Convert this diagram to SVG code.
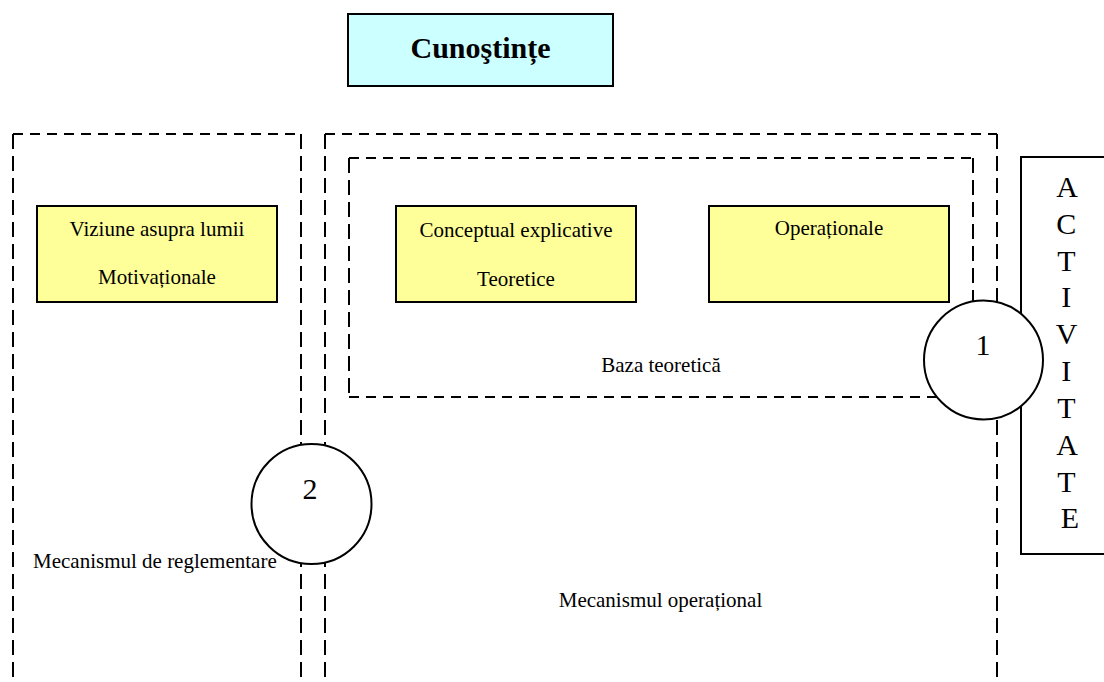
<svg xmlns="http://www.w3.org/2000/svg" width="1104" height="682" viewBox="0 0 1104 682">
<style>
text{font-family:"Liberation Serif","Times New Roman",serif;fill:#000}
.t{font-size:21px}
.big{font-size:30px}
.hd{stroke:#000;stroke-width:2;stroke-dasharray:10 7;fill:none}
.vd{stroke:#000;stroke-width:2;stroke-dasharray:15 7;fill:none}
.yb{fill:#FFFF99;stroke:#000;stroke-width:2}
.cir{fill:#fff;stroke:#000;stroke-width:2}
</style>
<rect width="1104" height="682" fill="#fff"/>
<g id="connectors">
  <!-- left dashed region -->
  <line class="hd" x1="13" y1="134" x2="301" y2="134"/>
  <line class="vd" x1="13" y1="134" x2="13" y2="682"/>
  <line class="vd" x1="301" y1="134" x2="301" y2="682"/>
  <!-- right dashed region -->
  <line class="hd" x1="325" y1="134" x2="997" y2="134"/>
  <line class="vd" x1="325" y1="134" x2="325" y2="682"/>
  <line class="vd" x1="997" y1="134" x2="997" y2="682"/>
  <!-- inner dashed region -->
  <line class="hd" x1="349" y1="158" x2="973" y2="158"/>
  <line class="hd" x1="349" y1="397" x2="973" y2="397"/>
  <line class="vd" x1="349" y1="158" x2="349" y2="397"/>
  <line class="vd" x1="973" y1="158" x2="973" y2="397"/>
</g>
<g id="cunostinte">
  <rect x="348" y="14" width="265" height="72" fill="#CCFFFF" stroke="#000" stroke-width="2"/>
  <text x="480.5" y="58" text-anchor="middle" style="font-size:30px;font-weight:bold">Cunoştințe</text>
</g>
<g id="activitate">
  <rect x="1021" y="157" width="100" height="397" fill="#fff" stroke="#000" stroke-width="2"/>
  <text class="big" text-anchor="middle">
    <tspan x="1070" y="197">A</tspan>
    <tspan x="1070" y="234">C</tspan>
    <tspan x="1070" y="271">T</tspan>
    <tspan x="1070" y="307">I</tspan>
    <tspan x="1070" y="344">V</tspan>
    <tspan x="1070" y="381">I</tspan>
    <tspan x="1070" y="418">T</tspan>
    <tspan x="1070" y="455">A</tspan>
    <tspan x="1070" y="492">T</tspan>
    <tspan x="1070" y="528">E</tspan>
  </text>
</g>
<g id="viziune">
  <rect class="yb" x="37" y="206" width="240" height="96"/>
  <text class="t" x="157" y="236" text-anchor="middle">Viziune asupra lumii</text>
  <text class="t" x="157" y="284" text-anchor="middle">Motivaționale</text>
</g>
<g id="conceptual">
  <rect class="yb" x="396" y="206" width="240" height="96"/>
  <text class="t" x="516" y="237" text-anchor="middle">Conceptual explicative</text>
  <text class="t" x="516" y="286" text-anchor="middle">Teoretice</text>
</g>
<g id="operationale">
  <rect class="yb" x="709" y="206" width="240" height="96"/>
  <text class="t" x="829" y="235" text-anchor="middle">Operaționale</text>
</g>
<g id="baza-teoretica">
  <text class="t" x="661" y="372" text-anchor="middle">Baza teoretică</text>
</g>
<g id="mecanism-reglementare">
  <text class="t" x="33" y="568">Mecanismul de reglementare</text>
</g>
<g id="mecanism-operational">
  <text class="t" x="660.5" y="607" text-anchor="middle">Mecanismul operațional</text>
</g>
<g id="circle1">
  <circle class="cir" cx="983.5" cy="360" r="59.5"/>
  <text class="big" x="983" y="355" text-anchor="middle">1</text>
</g>
<g id="circle2">
  <circle class="cir" cx="311.5" cy="504" r="60"/>
  <text class="big" x="310" y="499" text-anchor="middle">2</text>
</g>
</svg>
